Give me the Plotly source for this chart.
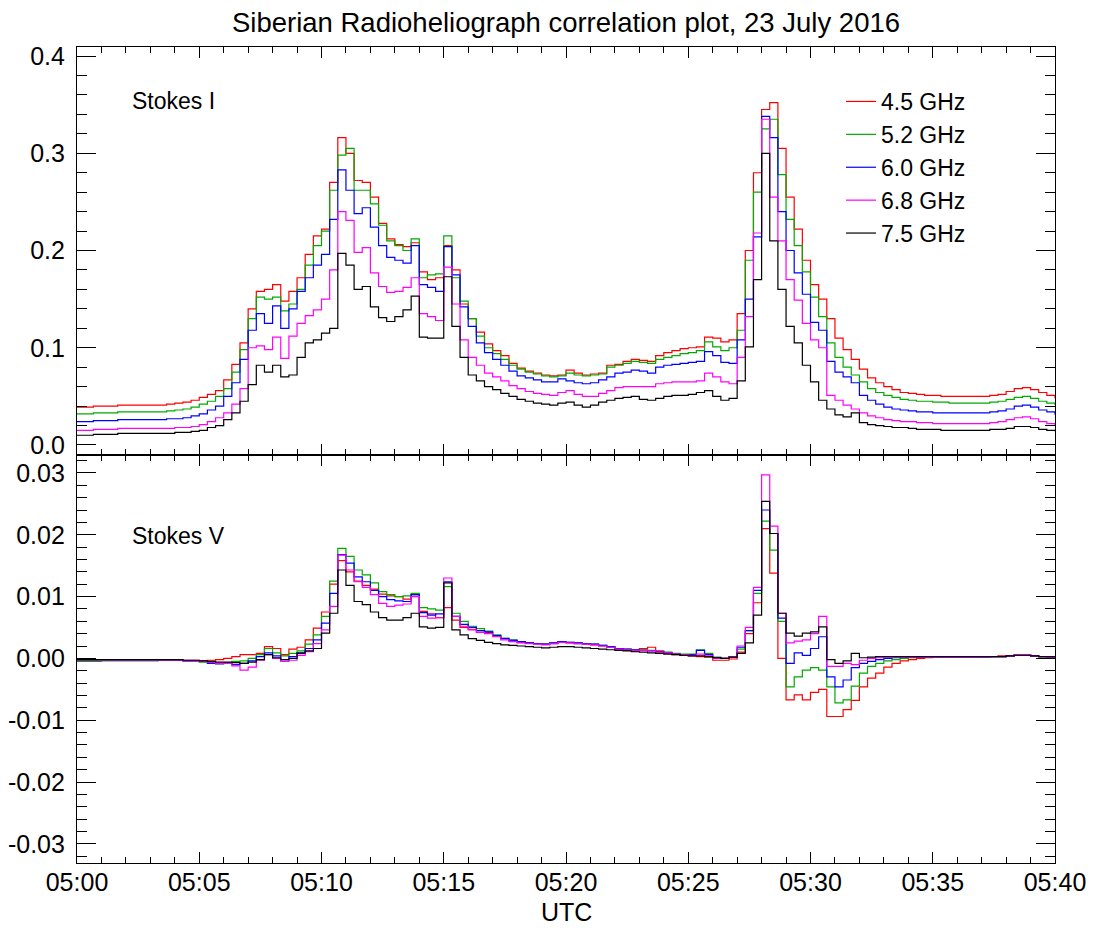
import pandas as pd
import plotly.graph_objects as go

# ---------------- data (20-s cadence, 05:00:00 - 05:40:00 UTC) ----------------
START = "2016-07-23 05:00:00"
CADENCE = "20s"

FREQ_LABELS = ["4.5 GHz", "5.2 GHz", "6.0 GHz", "6.8 GHz", "7.5 GHz"]
COLORS = ["#ff0000", "#00aa00", "#0000ff", "#ff00ff", "#000000"]

# Stokes I correlation
I_45 = [0.039,0.039,0.040, 0.040,0.040,0.041, 0.041,0.041,0.041, 0.041,0.041,0.042, 0.043,0.044,0.046,
        0.049,0.052,0.056, 0.067,0.083,0.105, 0.140,0.158,0.160, 0.165,0.148,0.158, 0.172,0.196,0.215,
        0.222,0.270,0.316, 0.300,0.272,0.270, 0.255,0.228,0.212, 0.206,0.204,0.208, 0.178,0.170,0.172,
        0.205,0.180,0.145, 0.130,0.116,0.104, 0.097,0.092,0.084, 0.079,0.076,0.074, 0.072,0.071,0.072,
        0.077,0.074,0.072, 0.073,0.074,0.082, 0.083,0.086,0.088, 0.087,0.086,0.092, 0.095,0.097,0.099,
        0.100,0.101,0.111, 0.110,0.106,0.108, 0.135,0.200,0.280, 0.345,0.352,0.305, 0.255,0.222,0.190,
        0.165,0.150,0.130, 0.110,0.098,0.088, 0.078,0.069,0.064, 0.060,0.057,0.054, 0.053,0.052,0.051,
        0.051,0.050,0.050, 0.050,0.050,0.050, 0.050,0.051,0.052, 0.055,0.058,0.059, 0.057,0.054,0.051,
        0.048]
I_52 = [0.032,0.032,0.033, 0.033,0.033,0.034, 0.034,0.034,0.034, 0.034,0.034,0.035, 0.036,0.037,0.039,
        0.042,0.045,0.050, 0.058,0.075,0.098, 0.130,0.152,0.150, 0.152,0.138,0.145, 0.160,0.185,0.205,
        0.220,0.262,0.298, 0.305,0.262,0.262, 0.248,0.226,0.210, 0.205,0.200,0.212, 0.172,0.175,0.176,
        0.215,0.172,0.148, 0.130,0.112,0.100, 0.094,0.088,0.082, 0.078,0.075,0.073, 0.071,0.070,0.071,
        0.074,0.072,0.071, 0.072,0.073,0.080, 0.082,0.084,0.086, 0.085,0.084,0.088, 0.090,0.092,0.094,
        0.095,0.097,0.106, 0.101,0.097,0.100, 0.118,0.190,0.260, 0.325,0.335,0.278, 0.232,0.205,0.178,
        0.152,0.132,0.105, 0.090,0.080,0.072, 0.065,0.058,0.054, 0.051,0.049,0.047, 0.046,0.045,0.045,
        0.044,0.044,0.043, 0.043,0.043,0.043, 0.043,0.044,0.045, 0.047,0.049,0.050, 0.048,0.045,0.043,
        0.041]
I_60 = [0.024,0.024,0.025, 0.025,0.025,0.026, 0.026,0.026,0.026, 0.026,0.026,0.027, 0.027,0.028,0.030,
        0.032,0.036,0.040, 0.050,0.064,0.088, 0.118,0.135,0.125, 0.143,0.120,0.140, 0.158,0.172,0.185,
        0.196,0.232,0.283, 0.262,0.238,0.244, 0.224,0.205,0.193, 0.190,0.187,0.205, 0.165,0.162,0.158,
        0.204,0.175,0.142, 0.122,0.105,0.095, 0.088,0.082,0.076, 0.071,0.069,0.067, 0.065,0.065,0.068,
        0.066,0.064,0.063, 0.064,0.067,0.070, 0.074,0.075,0.077, 0.076,0.074,0.080, 0.082,0.083,0.084,
        0.085,0.086,0.096, 0.092,0.085,0.084, 0.108,0.150,0.214, 0.338,0.316,0.240, 0.200,0.177,0.155,
        0.126,0.118,0.086, 0.075,0.070,0.064, 0.051,0.046,0.042, 0.039,0.037,0.036, 0.035,0.034,0.034,
        0.033,0.033,0.033, 0.033,0.033,0.033, 0.033,0.034,0.035, 0.037,0.040,0.041, 0.039,0.036,0.034,
        0.031]
I_68 = [0.015,0.015,0.016, 0.016,0.016,0.017, 0.017,0.017,0.017, 0.017,0.017,0.017, 0.018,0.018,0.019,
        0.021,0.024,0.028, 0.033,0.042,0.058, 0.100,0.102,0.098, 0.111,0.089,0.112, 0.125,0.133,0.139,
        0.150,0.180,0.240, 0.231,0.198,0.203, 0.177,0.163,0.157, 0.158,0.162,0.172, 0.135,0.132,0.128,
        0.183,0.145,0.108, 0.090,0.082,0.074, 0.070,0.066,0.061, 0.058,0.055,0.053, 0.052,0.051,0.054,
        0.056,0.052,0.050, 0.050,0.053,0.056, 0.059,0.060,0.060, 0.060,0.060,0.063, 0.064,0.065,0.065,
        0.065,0.066,0.074, 0.070,0.065,0.063, 0.090,0.132,0.218, 0.335,0.255,0.210, 0.170,0.149,0.125,
        0.108,0.100,0.051, 0.046,0.041,0.037, 0.033,0.030,0.028, 0.026,0.025,0.024, 0.024,0.023,0.023,
        0.022,0.022,0.022, 0.022,0.022,0.022, 0.022,0.023,0.024, 0.026,0.028,0.029, 0.027,0.024,0.022,
        0.020]
I_75 = [0.010,0.010,0.011, 0.011,0.011,0.012, 0.012,0.012,0.012, 0.012,0.012,0.012, 0.013,0.013,0.014,
        0.015,0.018,0.020, 0.026,0.033,0.045, 0.062,0.082,0.075, 0.082,0.070,0.072, 0.090,0.105,0.108,
        0.115,0.120,0.197, 0.185,0.160,0.163, 0.142,0.131,0.127, 0.132,0.139,0.153, 0.111,0.110,0.110,
        0.173,0.122,0.090, 0.072,0.066,0.060, 0.057,0.053,0.050, 0.047,0.045,0.043, 0.042,0.041,0.043,
        0.044,0.041,0.039, 0.041,0.044,0.046, 0.048,0.049,0.050, 0.047,0.046,0.048, 0.050,0.051,0.051,
        0.052,0.054,0.056, 0.050,0.046,0.048, 0.066,0.101,0.170, 0.300,0.210,0.160, 0.122,0.105,0.082,
        0.065,0.046,0.037, 0.031,0.029,0.033, 0.023,0.021,0.020, 0.019,0.018,0.018, 0.017,0.016,0.016,
        0.016,0.015,0.015, 0.015,0.015,0.015, 0.015,0.016,0.016, 0.017,0.019,0.019, 0.018,0.016,0.015,
        0.014]

# Stokes V correlation
V_45 = [-0.0003,-0.0003,-0.0003, -0.0003,-0.0003,-0.0002, -0.0002,-0.0003,-0.0003, -0.0003,-0.0002,-0.0002, -0.0002,-0.0003,-0.0003,
        -0.0004,-0.0003,-0.0002, 0.0000,0.0003,0.0006, 0.0006,0.0008,0.0019, 0.0016,0.0006,0.0015, 0.0018,0.0030,0.0049,
        0.0075,0.0120,0.0158, 0.0140,0.0125,0.0118, 0.0112,0.0104,0.0101, 0.0100,0.0096,0.0103, 0.0076,0.0072,0.0066,
        0.0082,0.0062,0.0050, 0.0047,0.0045,0.0042, 0.0036,0.0032,0.0028, 0.0026,0.0025,0.0024, 0.0023,0.0024,0.0026,
        0.0025,0.0024,0.0023, 0.0022,0.0020,0.0018, 0.0015,0.0013,0.0014, 0.0016,0.0018,0.0012, 0.0009,0.0006,0.0005,
        0.0004,0.0003,0.0002, -0.0003,-0.0003,-0.0001, 0.0010,0.0040,0.0090, 0.0210,0.0138,0.0000, -0.0067,-0.0059,-0.0067,
        -0.0055,-0.0050,-0.0094, -0.0094,-0.0083,-0.0068, -0.0046,-0.0032,-0.0024, -0.0014,-0.0008,-0.0004, -0.0002,0.0000,0.0001,
        0.0002,0.0002,0.0002, 0.0002,0.0002,0.0002, 0.0002,0.0003,0.0004, 0.0004,0.0006,0.0006, 0.0004,0.0003,0.0002,
        0.0002]
V_52 = [-0.0005,-0.0005,-0.0005, -0.0004,-0.0004,-0.0004, -0.0004,-0.0004,-0.0004, -0.0004,-0.0003,-0.0003, -0.0003,-0.0004,-0.0004,
        -0.0006,-0.0007,-0.0008, -0.0007,-0.0005,-0.0004, 0.0000,0.0006,0.0016, 0.0009,0.0004,0.0008, 0.0012,0.0023,0.0038,
        0.0068,0.0125,0.0178, 0.0165,0.0143,0.0135, 0.0122,0.0108,0.0103, 0.0100,0.0101,0.0105, 0.0082,0.0080,0.0078,
        0.0116,0.0073,0.0060, 0.0052,0.0048,0.0044, 0.0038,0.0033,0.0030, 0.0027,0.0025,0.0024, 0.0023,0.0025,0.0027,
        0.0026,0.0025,0.0024, 0.0023,0.0021,0.0019, 0.0016,0.0015,0.0014, 0.0014,0.0013,0.0011, 0.0010,0.0008,0.0007,
        0.0007,0.0014,0.0008, 0.0002,0.0000,0.0002, 0.0015,0.0045,0.0105, 0.0222,0.0175,0.0060, -0.0046,-0.0030,-0.0019,
        -0.0015,-0.0019,-0.0046, -0.0072,-0.0067,-0.0045, -0.0024,-0.0013,-0.0008, -0.0004,-0.0002,0.0000, 0.0001,0.0002,0.0002,
        0.0002,0.0002,0.0002, 0.0002,0.0002,0.0002, 0.0002,0.0003,0.0003, 0.0004,0.0005,0.0005, 0.0004,0.0003,0.0002,
        0.0002]
V_60 = [-0.0003,-0.0003,-0.0003, -0.0003,-0.0003,-0.0003, -0.0003,-0.0003,-0.0003, -0.0003,-0.0003,-0.0003, -0.0003,-0.0004,-0.0004,
        -0.0005,-0.0008,-0.0009, -0.0008,-0.0010,-0.0008, -0.0004,0.0003,0.0009, 0.0004,-0.0002,0.0003, 0.0008,0.0016,0.0030,
        0.0057,0.0105,0.0168, 0.0154,0.0132,0.0124, 0.0110,0.0100,0.0095, 0.0093,0.0092,0.0103, 0.0074,0.0070,0.0072,
        0.0124,0.0068,0.0055, 0.0050,0.0045,0.0043, 0.0037,0.0032,0.0029, 0.0027,0.0025,0.0024, 0.0023,0.0025,0.0027,
        0.0026,0.0025,0.0024, 0.0023,0.0021,0.0019, 0.0016,0.0015,0.0014, 0.0013,0.0012,0.0011, 0.0009,0.0007,0.0006,
        0.0006,0.0013,0.0006, 0.0001,0.0000,0.0003, 0.0018,0.0045,0.0110, 0.0240,0.0202,0.0065, -0.0008,0.0009,0.0005,
        0.0016,0.0035,-0.0030, -0.0046,-0.0035,-0.0015, -0.0008,-0.0005,-0.0002, 0.0000,0.0001,0.0002, 0.0002,0.0002,0.0002,
        0.0002,0.0002,0.0002, 0.0002,0.0002,0.0002, 0.0002,0.0003,0.0003, 0.0004,0.0006,0.0006, 0.0004,0.0003,0.0002,
        0.0002]
V_68 = [-0.0003,-0.0003,-0.0003, -0.0003,-0.0003,-0.0003, -0.0003,-0.0003,-0.0003, -0.0003,-0.0003,-0.0003, -0.0003,-0.0004,-0.0004,
        -0.0005,-0.0006,-0.0008, -0.0008,-0.0012,-0.0019, -0.0014,-0.0003,0.0006, 0.0000,-0.0005,-0.0003, 0.0005,0.0011,0.0024,
        0.0046,0.0084,0.0167, 0.0143,0.0124,0.0115, 0.0103,0.0089,0.0084, 0.0086,0.0088,0.0100, 0.0068,0.0065,0.0066,
        0.0130,0.0068,0.0052, 0.0046,0.0042,0.0040, 0.0035,0.0030,0.0027, 0.0025,0.0024,0.0023, 0.0022,0.0024,0.0026,
        0.0025,0.0024,0.0023, 0.0022,0.0020,0.0018, 0.0015,0.0014,0.0013, 0.0013,0.0012,0.0010, 0.0009,0.0007,0.0006,
        0.0005,0.0007,0.0004, 0.0000,0.0000,0.0003, 0.0020,0.0050,0.0115, 0.0297,0.0214,0.0073, 0.0025,0.0028,0.0030,
        0.0040,0.0068,-0.0013, -0.0013,-0.0008,-0.0010, -0.0003,0.0000,0.0001, 0.0002,0.0002,0.0002, 0.0002,0.0002,0.0002,
        0.0002,0.0002,0.0002, 0.0002,0.0002,0.0002, 0.0002,0.0003,0.0003, 0.0004,0.0006,0.0006, 0.0004,0.0003,0.0002,
        0.0002]
V_75 = [-0.0002,-0.0002,-0.0002, -0.0002,-0.0002,-0.0002, -0.0002,-0.0002,-0.0002, -0.0002,-0.0002,-0.0002, -0.0002,-0.0003,-0.0003,
        -0.0004,-0.0005,-0.0006, -0.0006,-0.0007,-0.0008, -0.0006,-0.0002,0.0006, 0.0001,-0.0002,0.0000, 0.0009,0.0012,0.0016,
        0.0041,0.0073,0.0143, 0.0118,0.0092,0.0087, 0.0075,0.0066,0.0062, 0.0062,0.0066,0.0073, 0.0051,0.0049,0.0050,
        0.0122,0.0046,0.0038, 0.0032,0.0029,0.0026, 0.0024,0.0022,0.0021, 0.0020,0.0019,0.0018, 0.0017,0.0018,0.0019,
        0.0019,0.0018,0.0017, 0.0016,0.0015,0.0014, 0.0013,0.0012,0.0011, 0.0010,0.0009,0.0008, 0.0007,0.0006,0.0005,
        0.0004,0.0004,0.0003, 0.0001,0.0000,0.0002, 0.0008,0.0025,0.0070, 0.0254,0.0202,0.0073, 0.0041,0.0036,0.0041,
        0.0043,0.0051,-0.0002, -0.0008,-0.0004,0.0008, 0.0001,0.0002,0.0003, 0.0003,0.0003,0.0003, 0.0003,0.0003,0.0003,
        0.0003,0.0003,0.0003, 0.0003,0.0003,0.0003, 0.0003,0.0003,0.0003, 0.0004,0.0005,0.0005, 0.0004,0.0003,0.0003,
        0.0002]

STOKES_I = [I_45, I_52, I_60, I_68, I_75]
STOKES_V = [V_45, V_52, V_60, V_68, V_75]

X_RANGE = ["2016-07-23 05:00:00", "2016-07-23 05:40:00"]
YI_TICKVALS = [0.0, 0.1, 0.2, 0.3, 0.4]
YI_TICKTEXT = ["0.0", "0.1", "0.2", "0.3", "0.4"]
YV_TICKVALS = [-0.03, -0.02, -0.01, 0.0, 0.01, 0.02, 0.03]
YV_TICKTEXT = ["-0.03", "-0.02", "-0.01", "0.00", "0.01", "0.02", "0.03"]

TITLE = "Siberian Radioheliograph correlation plot, 23 July 2016"
XLABEL = "UTC"

# ---------------- figure ----------------
times = pd.date_range(START, periods=len(I_45), freq=CADENCE)

REG = "Liberation Sans, Arial, Helvetica, sans-serif"

fig = go.Figure()
for lab, col, yi, yv in zip(FREQ_LABELS, COLORS, STOKES_I, STOKES_V):
    fig.add_trace(go.Scatter(x=times, y=yi, mode="lines", line=dict(color=col, width=1.2, shape="hv"),
                             name=lab, legendgroup=lab, xaxis="x", yaxis="y"))
    fig.add_trace(go.Scatter(x=times, y=yv, mode="lines", line=dict(color=col, width=1.2, shape="hv"),
                             name=lab, legendgroup=lab, showlegend=False, xaxis="x2", yaxis="y2"))

xcommon = dict(range=X_RANGE, type="date", dtick=300000, tick0="2016-07-23 05:00:00", tickformat="%H:%M",
               ticks="inside", ticklen=11, tickwidth=1, tickcolor="black",
               minor=dict(dtick=60000, ticks="inside", ticklen=6, tickwidth=1, tickcolor="black"),
               showline=True, linecolor="black", linewidth=1.2, mirror="ticks",
               showgrid=False, zeroline=False, automargin=False)
ycommon = dict(ticks="inside", ticklen=19, tickwidth=1, tickcolor="black",
               showline=True, linecolor="black", linewidth=1.2, mirror="ticks",
               showgrid=False, zeroline=False, tickmode="array", automargin=False,
               tickfont=dict(family=REG, size=25, color="black"), ticklabelstandoff=6)

fig.update_layout(
    width=1094, height=928,
    margin=dict(l=77, r=39, t=47, b=65),
    paper_bgcolor="white", plot_bgcolor="white",
    title=dict(text=TITLE, x=0.5, xref="paper", y=1 - 22 / 928, yref="container", yanchor="middle",
               font=dict(family=REG, size=27.5, color="black")),
    xaxis=dict(**xcommon, anchor="y", showticklabels=False),
    xaxis2=dict(**xcommon, anchor="y2", matches="x", ticklabelstandoff=-3,
                tickfont=dict(family=REG, size=25, color="black")),
    yaxis=dict(**ycommon, domain=[0.5, 1.0], range=[-0.0103, 0.4093],
               tickvals=YI_TICKVALS, ticktext=YI_TICKTEXT,
               minor=dict(tickmode="linear", tick0=0, dtick=0.02, ticks="inside", ticklen=10,
                          tickwidth=1, tickcolor="black")),
    yaxis2=dict(**ycommon, domain=[0.0, 0.5], range=[-0.0331, 0.0329],
                tickvals=YV_TICKVALS, ticktext=YV_TICKTEXT,
                minor=dict(tickmode="linear", tick0=0, dtick=0.002, ticks="inside", ticklen=10,
                           tickwidth=1, tickcolor="black")),
    legend=dict(x=(841 - 77) / 978, y=(863 - 80) / 816, xanchor="left", yanchor="top",
                bgcolor="rgba(0,0,0,0)", borderwidth=0, itemwidth=30, tracegroupgap=0,
                font=dict(family=REG, size=23, color="black")),
    annotations=[
        dict(text="Stokes I", xref="x domain", yref="y domain", x=(130 - 77) / 978, y=(455 - 101) / 408,
             xanchor="left", yanchor="middle", showarrow=False, font=dict(family=REG, size=23, color="black")),
        dict(text="Stokes V", xref="x2 domain", yref="y2 domain", x=(130 - 77) / 978, y=(863 - 536) / 408,
             xanchor="left", yanchor="middle", showarrow=False, font=dict(family=REG, size=23, color="black")),
        dict(text=XLABEL, xref="paper", yref="paper", x=0.5, y=(863 - 912) / 816,
             xanchor="center", yanchor="middle", showarrow=False, font=dict(family=REG, size=25, color="black")),
    ],
)

fig.write_html("out.html")
